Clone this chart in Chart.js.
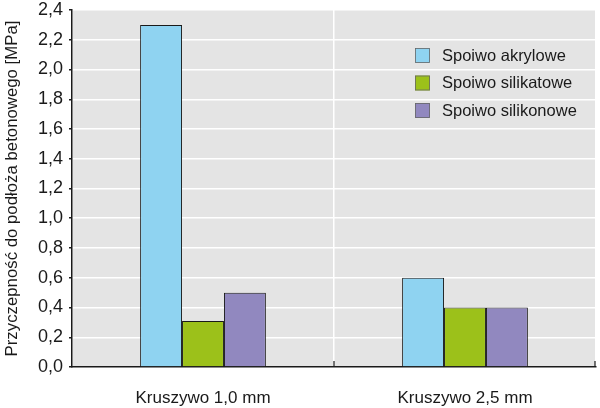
<!DOCTYPE html>
<html><head><meta charset="utf-8">
<script src="https://cdn.jsdelivr.net/npm/chart.js@4.4.1/dist/chart.umd.min.js"></script>
<style>html,body{margin:0;padding:0;background:#fff}#wrap{width:600px;height:408px}</style>
</head><body><div id="wrap"><canvas id="c" width="600" height="408"></canvas></div>
<script>
const categories = ['Kruszywo 1,0 mm', 'Kruszywo 2,5 mm'];
const seriesNames = ['Spoiwo akrylowe', 'Spoiwo silikatowe', 'Spoiwo silikonowe'];
const akrylowe = [2.3, 0.6];
const silikatowe = [0.31, 0.4];
const silikonowe = [0.5, 0.4];
const yTicks = [0,0.2,0.4,0.6,0.8,1.0,1.2,1.4,1.6,1.8,2.0,2.2,2.4];
const yTitle = 'Przyczepność do podłoża betonowego [MPa]';
const colors = ['#8fd3f1', '#9cc11a', '#9188bf'];
const FONT = '"Liberation Sans", Arial, sans-serif';

const bgPlugin = {
  id: 'bg',
  beforeDraw(chart) {
    const {ctx, chartArea: a} = chart;
    ctx.save();
    ctx.fillStyle = '#e4e4e4';
    ctx.fillRect(a.left, a.top, a.right - a.left, a.bottom - a.top);
    ctx.restore();
  }
};
const legendPlugin = {
  id: 'inlegend',
  afterDraw(chart) {
    const ctx = chart.ctx;
    const x = 415, y0 = 48, step = 27.5;
    ctx.save();
    ctx.font = '16.5px ' + FONT;
    ctx.textBaseline = 'middle';
    chart.data.datasets.forEach((ds, i) => {
      const y = y0 + i * step;
      ctx.fillStyle = ds.backgroundColor;
      ctx.fillRect(x, y, 15, 15);
      ctx.strokeStyle = '#666';
      ctx.lineWidth = 0.8;
      ctx.strokeRect(x + 0.5, y + 0.5, 14, 14);
      ctx.fillStyle = '#1a1a1a';
      ctx.fillText(ds.label, 442, y + 8);
    });
    ctx.restore();
  }
};
const xTickPlugin = {
  id: 'xticks',
  afterDatasetsDraw(chart) {
    const ctx = chart.ctx, xs = chart.scales.x, a = chart.chartArea;
    ctx.save();
    ctx.strokeStyle = '#1a1a1a';
    ctx.lineWidth = 1.2;
    for (let i = 1; i <= categories.length; i++) {
      const px = xs.getPixelForTick(i - 1) + (xs.getPixelForTick(1) - xs.getPixelForTick(0)) / 2;
      ctx.beginPath();
      ctx.moveTo(Math.min(px, a.right - 1), a.bottom);
      ctx.lineTo(Math.min(px, a.right - 1), a.bottom - 6);
      ctx.stroke();
    }
    ctx.restore();
  }
};

new Chart(document.getElementById('c'), {
  type: 'bar',
  data: {
    labels: categories,
    datasets: [
      {label: seriesNames[0], data: akrylowe, backgroundColor: colors[0]},
      {label: seriesNames[1], data: silikatowe, backgroundColor: colors[1]},
      {label: seriesNames[2], data: silikonowe, backgroundColor: colors[2]}
    ].map(d => Object.assign(d, {borderColor: '#1a1a1a', borderWidth: 1, categoryPercentage: 0.48, barPercentage: 1}))
  },
  options: {
    responsive: false,
    animation: false,
    layout: {padding: {top: 0, right: 4, left: 2, bottom: 0}},
    plugins: {legend: {display: false}, tooltip: {enabled: false}},
    scales: {
      x: {
        grid: {color: '#ffffff', lineWidth: 1.5, offset: true, drawTicks: false},
        border: {color: '#1a1a1a', width: 1.5},
        ticks: {color: '#1a1a1a', font: {family: FONT, size: 17}, padding: 21},
        afterFit(s) { s.height = 41; }
      },
      y: {
        min: 0, max: 2.4,
        afterBuildTicks(s) { s.ticks = yTicks.map(v => ({value: v})); },
        grid: {color: '#ffffff', lineWidth: 1.5, tickColor: '#1a1a1a', tickLength: 3},
        border: {color: '#1a1a1a', width: 1.5},
        ticks: {color: '#1a1a1a', font: {family: FONT, size: 18}, padding: 6,
          callback: v => v.toFixed(1).replace('.', ',')},
        title: {display: true, text: yTitle, color: '#1a1a1a', font: {family: FONT, size: 16.8}, padding: {top: 0, bottom: 3}},
        afterFit(s) { s.width = 70; s.paddingTop = 10; s.paddingBottom = 1; }
      }
    }
  },
  plugins: [bgPlugin, legendPlugin, xTickPlugin]
});
</script></body></html>
